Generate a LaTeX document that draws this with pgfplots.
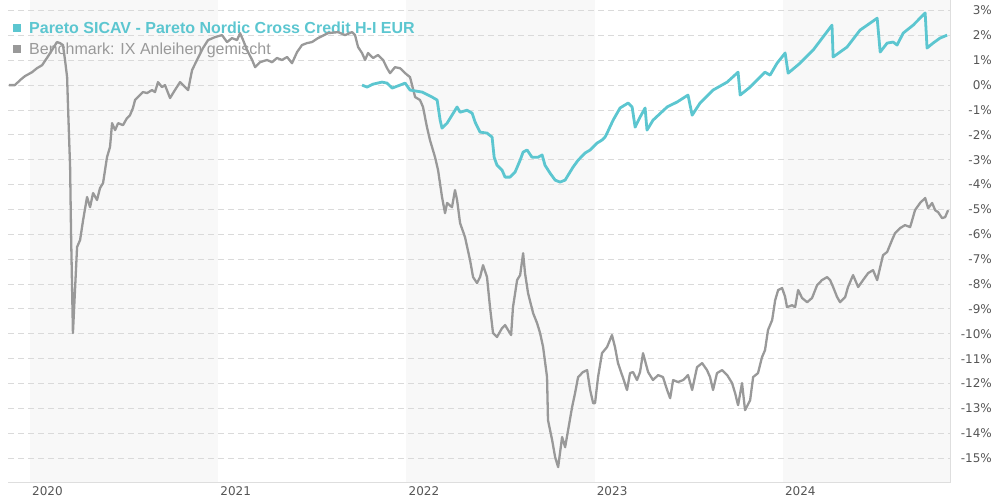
\documentclass[border=0pt]{standalone}
\usepackage{pgfplots}
\pgfplotsset{compat=1.18}
\usepackage{fontspec}
\setmainfont{DejaVu Sans}
\newfontfamily\arial{Liberation Sans}
\definecolor{fund}{RGB}{92,198,208}
\definecolor{bench}{RGB}{153,153,153}
\definecolor{band}{RGB}{248,248,248}
\definecolor{gridc}{RGB}{218,218,218}
\definecolor{tickc}{RGB}{85,85,85}
\definecolor{axc}{RGB}{222,222,222}

\pgfplotstableread{
year pct
2019.888 0
2019.920 0
2019.947 0.20
2019.973 0.36
2020.011 0.52
2020.037 0.68
2020.064 0.80
2020.090 1.09
2020.117 1.41
2020.143 1.73
2020.159 1.69
2020.175 1.61
2020.186 1.01
2020.197 0.32
2020.202 -0.88
2020.213 -3.30
2020.218 -5.95
2020.223 -7.96
2020.228 -9.97
2020.239 -8.24
2020.250 -6.51
2020.266 -6.23
2020.282 -5.43
2020.303 -4.50
2020.319 -4.91
2020.335 -4.34
2020.356 -4.62
2020.372 -4.14
2020.388 -3.94
2020.409 -2.90
2020.425 -2.49
2020.436 -1.53
2020.452 -1.81
2020.468 -1.53
2020.494 -1.61
2020.515 -1.33
2020.531 -1.21
2020.547 -0.92
2020.558 -0.60
2020.574 -0.48
2020.600 -0.28
2020.622 -0.32
2020.648 -0.20
2020.664 -0.28
2020.680 0.12
2020.701 -0.08
2020.717 0
2020.744 -0.52
2020.770 -0.20
2020.797 0.12
2020.813 0
2020.840 -0.20
2020.861 0.60
2020.887 1.01
2020.919 1.49
2020.946 1.81
2020.983 1.93
2021.020 2.01
2021.047 1.73
2021.073 1.89
2021.100 1.81
2021.116 2.09
2021.132 1.81
2021.153 1.41
2021.180 1.01
2021.196 0.72
2021.222 0.92
2021.259 1.01
2021.286 0.92
2021.312 1.09
2021.339 1.01
2021.366 1.13
2021.392 0.88
2021.419 1.33
2021.445 1.61
2021.472 1.69
2021.498 1.73
2021.530 1.89
2021.583 2.09
2021.637 2.13
2021.674 2.01
2021.711 2.13
2021.727 2.01
2021.743 1.53
2021.764 1.29
2021.780 1.01
2021.796 1.29
2021.823 1.09
2021.849 1.21
2021.876 1.01
2021.897 0.68
2021.913 0.48
2021.939 0.72
2021.966 0.68
2021.993 0.48
2022.019 0.32
2022.046 -0.48
2022.072 -0.60
2022.088 -0.88
2022.109 -1.69
2022.125 -2.21
2022.152 -2.90
2022.168 -3.42
2022.189 -4.50
2022.205 -5.15
2022.216 -4.74
2022.242 -4.91
2022.258 -4.22
2022.269 -4.62
2022.285 -5.55
2022.311 -6.11
2022.338 -7.04
2022.354 -7.72
2022.375 -7.96
2022.391 -7.72
2022.407 -7.24
2022.428 -7.72
2022.444 -8.93
2022.460 -9.97
2022.481 -10.13
2022.508 -9.77
2022.524 -9.65
2022.540 -9.85
2022.556 -10.05
2022.566 -8.93
2022.588 -7.84
2022.604 -7.64
2022.620 -6.76
2022.630 -7.56
2022.646 -8.36
2022.673 -9.17
2022.694 -9.57
2022.710 -9.97
2022.726 -10.53
2022.747 -11.74
2022.752 -13.47
2022.774 -14.27
2022.790 -14.96
2022.806 -15.36
2022.827 -14.15
2022.843 -14.56
2022.859 -13.87
2022.880 -12.95
2022.896 -12.38
2022.912 -11.74
2022.938 -11.54
2022.960 -11.46
2022.976 -12.26
2022.992 -12.79
2023.002 -12.79
2023.018 -11.74
2023.039 -10.78
2023.066 -10.53
2023.092 -10.05
2023.108 -10.53
2023.124 -11.18
2023.151 -11.78
2023.172 -12.26
2023.188 -11.58
2023.204 -11.54
2023.225 -11.86
2023.241 -11.54
2023.257 -10.78
2023.284 -11.54
2023.310 -11.86
2023.337 -11.66
2023.363 -11.74
2023.385 -12.26
2023.401 -12.59
2023.417 -11.86
2023.443 -11.94
2023.470 -11.86
2023.496 -11.66
2023.518 -12.26
2023.544 -11.34
2023.571 -11.18
2023.597 -11.46
2023.613 -11.74
2023.629 -12.26
2023.650 -11.58
2023.677 -11.46
2023.704 -11.66
2023.730 -11.98
2023.746 -12.38
2023.762 -12.87
2023.783 -11.98
2023.799 -13.07
2023.826 -12.67
2023.842 -11.74
2023.868 -11.58
2023.889 -10.94
2023.905 -10.66
2023.921 -9.85
2023.943 -9.45
2023.959 -8.65
2023.975 -8.24
2023.996 -8.16
2024.012 -8.52
2024.022 -8.93
2024.049 -8.85
2024.065 -8.93
2024.081 -8.24
2024.102 -8.56
2024.129 -8.73
2024.155 -8.56
2024.182 -8.04
2024.208 -7.84
2024.235 -7.72
2024.251 -7.84
2024.267 -8.12
2024.288 -8.52
2024.304 -8.73
2024.331 -8.52
2024.346 -8.12
2024.373 -7.64
2024.400 -8.12
2024.426 -7.84
2024.453 -7.56
2024.479 -7.44
2024.501 -7.84
2024.517 -7.32
2024.532 -6.84
2024.554 -6.71
2024.580 -6.23
2024.596 -5.95
2024.623 -5.75
2024.649 -5.63
2024.676 -5.71
2024.687 -5.43
2024.702 -5.03
2024.729 -4.74
2024.756 -4.54
2024.772 -4.95
2024.793 -4.74
2024.809 -5.03
2024.825 -5.11
2024.846 -5.35
2024.862 -5.31
2024.878 -5.03
}\benchdata

\pgfplotstableread{
year pct
2021.764 0
2021.791 -0.08
2021.823 0.04
2021.870 0.12
2021.897 0.08
2021.924 -0.12
2021.966 0
2021.993 0.08
2022.019 -0.20
2022.083 -0.28
2022.136 -0.48
2022.163 -0.60
2022.179 -1.41
2022.189 -1.73
2022.216 -1.53
2022.242 -1.21
2022.269 -0.88
2022.285 -1.09
2022.322 -1.01
2022.349 -1.13
2022.365 -1.49
2022.391 -1.89
2022.428 -1.93
2022.455 -2.09
2022.466 -2.90
2022.481 -3.22
2022.508 -3.42
2022.524 -3.70
2022.550 -3.70
2022.577 -3.50
2022.604 -3.02
2022.620 -2.69
2022.641 -2.61
2022.667 -2.90
2022.699 -2.90
2022.721 -2.81
2022.736 -3.22
2022.763 -3.54
2022.790 -3.82
2022.816 -3.90
2022.843 -3.82
2022.859 -3.62
2022.885 -3.30
2022.912 -3.02
2022.949 -2.73
2022.976 -2.61
2023.013 -2.33
2023.039 -2.21
2023.055 -2.09
2023.066 -1.93
2023.098 -1.41
2023.135 -0.92
2023.178 -0.72
2023.199 -0.88
2023.215 -1.69
2023.241 -1.29
2023.268 -0.92
2023.278 -1.81
2023.310 -1.41
2023.385 -0.88
2023.438 -0.68
2023.496 -0.40
2023.518 -1.21
2023.560 -0.72
2023.629 -0.20
2023.704 0.12
2023.762 0.52
2023.773 -0.40
2023.826 -0.08
2023.905 0.52
2023.932 0.40
2023.969 0.88
2024.012 1.29
2024.028 0.48
2024.091 0.88
2024.161 1.41
2024.261 2.41
2024.267 1.13
2024.341 1.53
2024.410 2.21
2024.501 2.69
2024.517 1.33
2024.554 1.69
2024.586 1.73
2024.607 1.61
2024.639 2.09
2024.692 2.41
2024.756 2.90
2024.766 1.49
2024.798 1.69
2024.835 1.89
2024.873 2.01
}\funddata

\begin{document}
\begin{tikzpicture}
\path (0pt,0pt) rectangle (992pt,500pt);
\begin{axis}[
  set layers=standard,
  at={(8pt,18pt)}, anchor=south west,
  scale only axis, width=942pt, height=482pt,
  xmin=2019.883, xmax=2024.888,
  ymin=-15.963, ymax=3.418,
  axis line style={draw=none},
  major tick length=0pt,
  xtick={2020,2021,2022,2023,2024},
  xticklabels={2020,2021,2022,2023,2024},
  xticklabel style={anchor=north west, inner sep=0pt, xshift=2pt, yshift=-4pt,
    font=\fontsize{12}{14}\selectfont, text=tickc},
  ytick={-15,-14,-13,-12,-11,-10,-9,-8,-7,-6,-5,-4,-3,-2,-1,0,1,2,3},
  yticklabels={-15\%,-14\%,-13\%,-12\%,-11\%,-10\%,-9\%,-8\%,-7\%,-6\%,-5\%,-4\%,-3\%,-2\%,-1\%,0\%,1\%,2\%,3\%},
  yticklabel pos=right,
  yticklabel style={anchor=east, inner sep=0pt, xshift=42pt,
    font=\fontsize{12}{14}\selectfont, text=tickc},
  ymajorgrids,
  major grid style={draw=gridc, line width=0.9pt, dash pattern=on 6pt off 4pt},
]
\pgfonlayer{axis background}
\fill[band] (axis cs:2020,-15.963) rectangle (axis cs:2021,3.418);
\fill[band] (axis cs:2022,-15.963) rectangle (axis cs:2023,3.418);
\fill[band] (axis cs:2024,-15.963) rectangle (axis cs:2024.888,3.418);
\endpgfonlayer
\pgfonlayer{axis lines}
\draw[axc, line width=1pt] (rel axis cs:0,0) -- (rel axis cs:1,0) -- (rel axis cs:1,1);
\endpgfonlayer
\pgfonlayer{pre main}
\fill[fund] ([shift={(5pt,-32pt)}]rel axis cs:0,1) rectangle ([shift={(13pt,-24pt)}]rel axis cs:0,1);
\node[anchor=base west, inner sep=0pt, text=fund, font=\arial\bfseries\fontsize{16}{18}\selectfont]
  at ([shift={(21pt,-33pt)}]rel axis cs:0,1) {Pareto SICAV - Pareto Nordic Cross Credit H-I EUR};
\fill[bench] ([shift={(5pt,-53pt)}]rel axis cs:0,1) rectangle ([shift={(13pt,-45pt)}]rel axis cs:0,1);
\node[anchor=base west, inner sep=0pt, text=bench, font=\arial\fontsize{16}{18}\selectfont]
  at ([shift={(21pt,-54pt)}]rel axis cs:0,1) {Benchmark: IX Anleihen gemischt};
\endpgfonlayer
\addplot[bench, line width=2.3pt, line join=round, mark=none] table[x=year, y=pct] {\benchdata};
\addplot[fund, line width=2.8pt, line join=round, mark=none] table[x=year, y=pct] {\funddata};
\end{axis}
\end{tikzpicture}
\end{document}
